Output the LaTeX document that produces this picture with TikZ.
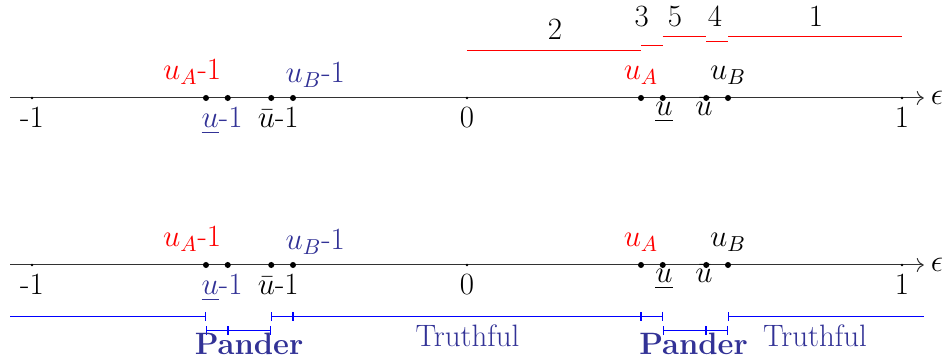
\RequirePackage{fix-cm}
\documentclass[tikz,border=0pt]{standalone}
\usepackage{amsmath,amssymb}
\usetikzlibrary{positioning,arrows.meta}
\definecolor{ZoneBlue}{RGB}{50,50,150}
\definecolor{AxisGray}{RGB}{50,50,50}

\begin{document}
\begin{tikzpicture}[
    x=7.6125cm,
    y=1cm,
    font=\fontsize{15.4}{18}\selectfont,
    axis/.style={
        draw=AxisGray,
        line width=0.5pt,
        -{To[length=3.5pt,width=7pt]}
    },
    dot/.style={
        circle,
        fill=black,
        inner sep=0pt,
        minimum size=3pt
    },
    tickdot/.style={
        circle,
        fill=black,
        inner sep=0pt,
        minimum size=1.4pt
    },
    lbl/.style={
        anchor=base,
        inner sep=0pt
    },
    part/.style={
        draw=red
    },
    zone/.style={
        draw=blue,
        {Bar[width=4.5pt]}-{Bar[width=4.5pt]}
    },
    zonetext/.style={
        lbl,
        text=ZoneBlue
    }
]
\useasboundingbox (-1.07356,1.715) rectangle (1.09885,-4.62);

% upper axis
\coordinate (s1) at (-1.05,0);
\coordinate (e1) at (1.05,0);
\draw[axis] (s1) -- (e1) node[right] (eps1) {$\epsilon$};

\node[tickdot] (m1) at (-1,0) {};
\node[tickdot] (z1) at (0,0) {};
\node[tickdot] (p1) at (1,0) {};
\node[lbl] (lm1) at (-1,-0.525) {-1};
\node[lbl] (lz1) at (0,-0.525) {0};
\node[lbl] (lp1) at (1,-0.525) {1};

\node[lbl,red] (luAm1) at (-0.632,0.325) {$u_A$-1};
\node[lbl,text=ZoneBlue] (luBm1) at (-0.349,0.265) {$u_B$-1};
\node[lbl,text=ZoneBlue] (lulm1) at (-0.563,-0.525) {$\underline{u}$-1};
\node[lbl] (luhm1) at (-0.434,-0.525) {$\bar{u}$-1};
\node[lbl,red] (luA1) at (0.4,0.315) {$u_A$};
\node[lbl] (luB1) at (0.6,0.315) {$u_B$};
\node[lbl] (lul1) at (0.453,-0.315) {$\underline{u}$};
\node[lbl] (luh1) at (0.545,-0.315) {$\bar{u}$};

\node[dot] (uAm1) at (-0.6,0) {};
\node[dot] (ulm1) at (-0.55,0) {};
\node[dot] (uhm1) at (-0.45,0) {};
\node[dot] (uBm1) at (-0.4,0) {};
\node[dot] (uA1) at (0.4,0) {};
\node[dot] (ul1) at (0.45,0) {};
\node[dot] (uh1) at (0.55,0) {};
\node[dot] (uB1) at (0.6,0) {};

% cases above the upper axis
\coordinate (c2a) at (0,0.84);
\coordinate (c2b) at (0.4,0.84);
\coordinate (c3a) at (0.4,0.9275);
\coordinate (c3b) at (0.45,0.9275);
\coordinate (c5a) at (0.45,1.073);
\coordinate (c5b) at (0.55,1.073);
\coordinate (c4a) at (0.55,0.985);
\coordinate (c4b) at (0.6,0.985);
\coordinate (c1a) at (0.6,1.073);
\coordinate (c1b) at (1,1.073);
\draw[part] (c2a) -- (c2b);
\draw[part] (c3a) -- (c3b);
\draw[part] (c5a) -- (c5b);
\draw[part] (c4a) -- (c4b);
\draw[part] (c1a) -- (c1b);
\node[lbl] (n2) at (0.2023,1.024) {2};
\node[lbl] (n3) at (0.4016,1.248) {3};
\node[lbl] (n5) at (0.478,1.248) {5};
\node[lbl] (n4) at (0.570,1.248) {4};
\node[lbl] (n1) at (0.802,1.248) {1};

% lower axis
\coordinate (s2) at (-1.05,-2.9225);
\coordinate (e2) at (1.05,-2.9225);
\draw[axis] (s2) -- (e2) node[right] (eps2) {$\epsilon$};

\node[tickdot] (m2) at (-1,-2.9225) {};
\node[tickdot] (z2) at (0,-2.9225) {};
\node[tickdot] (p2) at (1,-2.9225) {};
\node[lbl] (lm2) at (-1,-3.4475) {-1};
\node[lbl] (lz2) at (0,-3.4475) {0};
\node[lbl] (lp2) at (1,-3.4475) {1};

\node[lbl,red] (luAm2) at (-0.632,-2.5975) {$u_A$-1};
\node[lbl,text=ZoneBlue] (luBm2) at (-0.349,-2.6575) {$u_B$-1};
\node[lbl,text=ZoneBlue] (lulm2) at (-0.563,-3.4475) {$\underline{u}$-1};
\node[lbl] (luhm2) at (-0.434,-3.4475) {$\bar{u}$-1};
\node[lbl,red] (luA2) at (0.4,-2.6075) {$u_A$};
\node[lbl] (luB2) at (0.6,-2.6075) {$u_B$};
\node[lbl] (lul2) at (0.453,-3.2375) {$\underline{u}$};
\node[lbl] (luh2) at (0.545,-3.2375) {$\bar{u}$};

\node[dot] (uAm2) at (-0.6,-2.9225) {};
\node[dot] (ulm2) at (-0.55,-2.9225) {};
\node[dot] (uhm2) at (-0.45,-2.9225) {};
\node[dot] (uBm2) at (-0.4,-2.9225) {};
\node[dot] (uA2) at (0.4,-2.9225) {};
\node[dot] (ul2) at (0.45,-2.9225) {};
\node[dot] (uh2) at (0.55,-2.9225) {};
\node[dot] (uB2) at (0.6,-2.9225) {};

% regions below the lower axis
\coordinate (r0) at (-1.05,-3.824);
\coordinate (r1) at (-0.6,-3.824);
\coordinate (r2) at (-0.45,-3.824);
\coordinate (r3) at (-0.4,-3.824);
\coordinate (r4) at (0.4,-3.824);
\coordinate (r5) at (0.45,-3.824);
\coordinate (r6) at (0.6,-3.824);
\coordinate (r7) at (1.05,-3.824);
\coordinate (q1) at (-0.6,-4.069);
\coordinate (q2) at (-0.55,-4.069);
\coordinate (q3) at (-0.45,-4.069);
\coordinate (q4) at (0.45,-4.069);
\coordinate (q5) at (0.55,-4.069);
\coordinate (q6) at (0.6,-4.069);
\draw[draw=blue,-{Bar[width=4.5pt]}] (r0) -- (r1);
\draw[zone] (r2) -- (r3);
\draw[zone] (r3) -- (r4);
\draw[zone] (r4) -- (r5);
\draw[draw=blue,{Bar[width=4.5pt]}-] (r6) -- (r7);
\draw[zone] (q1) -- (q2);
\draw[zone] (q2) -- (q3);
\draw[zone] (q4) -- (q5);
\draw[zone] (q5) -- (q6);

\node[zonetext] (pander1) at (-0.501,-4.4975) {\textbf{Pander}};
\node[zonetext] (pander2) at (0.5207,-4.4975) {\textbf{Pander}};
\node[zonetext] (truth1) at (0.001,-4.3575) {Truthful};
\node[zonetext] (truth2) at (0.8,-4.3575) {Truthful};

\end{tikzpicture}
\end{document}
